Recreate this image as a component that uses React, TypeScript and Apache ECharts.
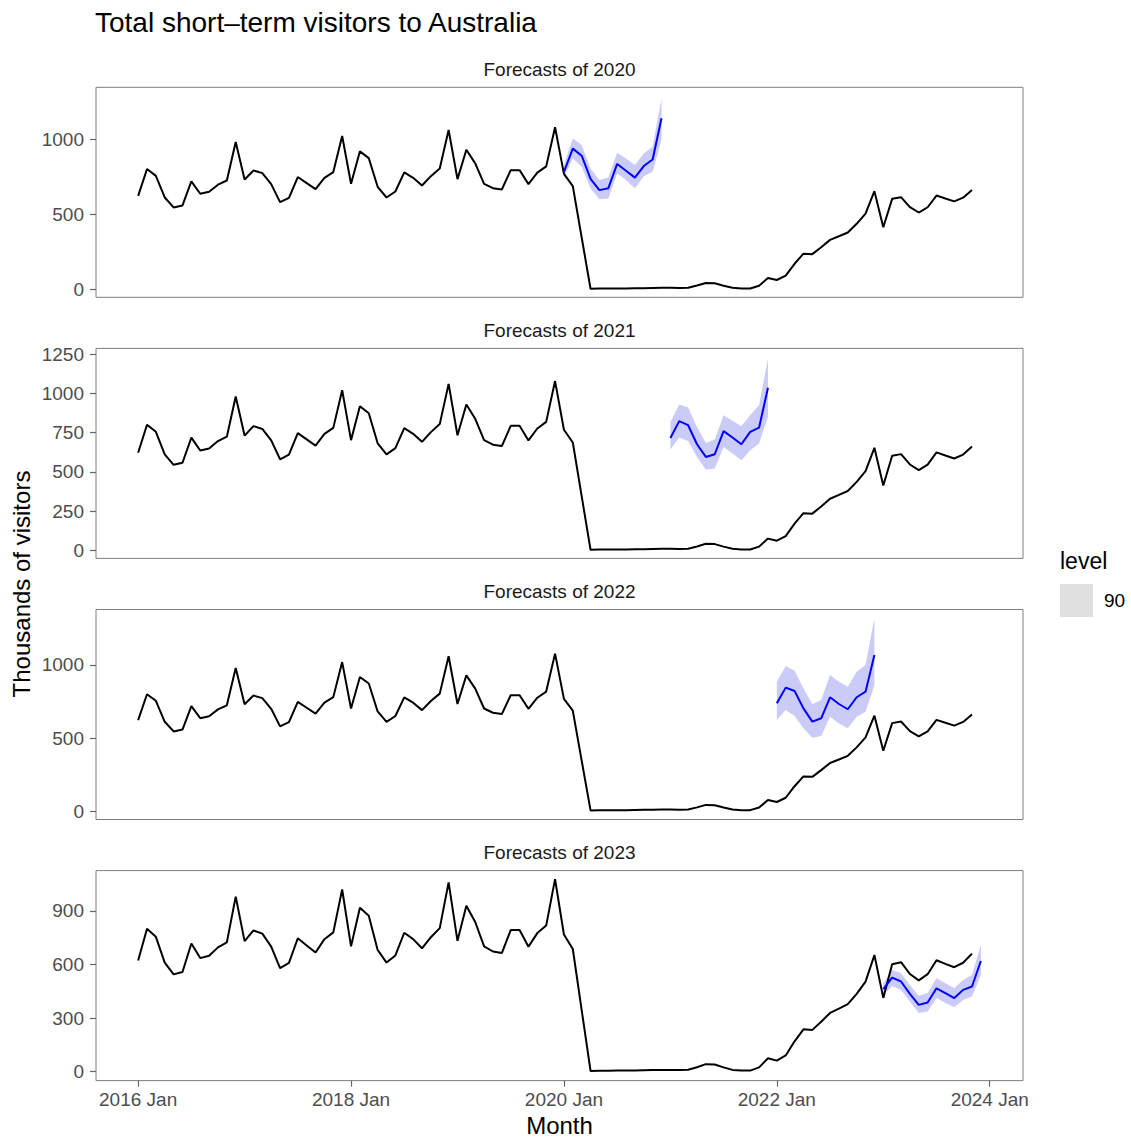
import React, { useEffect, useRef } from "react";
import * as echarts from "echarts";

// ---------- DATA ----------
// Monthly short-term visitors (thousands), index 0 = 2016 Jan
const visitors2016 = [622, 800, 755, 611, 545, 558, 718, 636, 649, 696, 724, 980];
const visitors2017 = [731, 791, 773, 700, 580, 609, 747, 707, 667, 742, 780, 1020];
const visitors2018 = [702, 918, 873, 682, 611, 651, 778, 742, 691, 753, 804, 1060];
const visitors2019 = [733, 929, 838, 702, 673, 664, 793, 793, 700, 776, 818, 1078];
const visitors2020 = [768, 687, 345, 4, 5, 5, 6, 6, 7, 8, 9, 10];
const visitors2021 = [10, 9, 11, 25, 42, 40, 24, 10, 6, 6, 24, 75];
const visitors2022 = [62, 91, 170, 237, 234, 280, 329, 353, 378, 436, 504, 653];
const visitors2023 = [413, 602, 613, 547, 511, 546, 624, 604, 585, 610, 661];
const visitors = [
  ...visitors2016, ...visitors2017, ...visitors2018, ...visitors2019,
  ...visitors2020, ...visitors2021, ...visitors2022, ...visitors2023,
];

const firstYear = 2016;
const forecastYears = [2020, 2021, 2022, 2023];

const fcMean2020 = [782, 936, 889, 735, 660, 672, 834, 789, 743, 820, 864, 1138];
const fcLo2020 = [745, 871, 816, 671, 600, 604, 771, 727, 671, 753, 782, 995];
const fcHi2020 = [827, 1004, 960, 804, 727, 744, 909, 871, 827, 904, 949, 1271];

const fcMean2021 = [716, 823, 797, 676, 595, 612, 759, 719, 676, 755, 782, 1035];
const fcLo2021 = [642, 719, 697, 595, 515, 521, 659, 617, 574, 638, 680, 850];
const fcHi2021 = [818, 929, 910, 786, 684, 706, 861, 825, 791, 861, 925, 1222];

const fcMean2022 = [738, 845, 822, 703, 612, 635, 779, 733, 697, 779, 817, 1068];
const fcLo2022 = [623, 692, 651, 566, 502, 514, 646, 600, 566, 646, 680, 863];
const fcHi2022 = [886, 993, 961, 840, 731, 760, 932, 886, 851, 954, 1000, 1320];

const fcMean2023 = [462, 527, 505, 436, 374, 387, 467, 440, 412, 458, 477, 620];
const fcLo2023 = [430, 480, 458, 393, 328, 337, 412, 384, 361, 402, 421, 542];
const fcHi2023 = [495, 570, 551, 486, 425, 440, 523, 495, 467, 514, 542, 709];

const fcMeans = [fcMean2020, fcMean2021, fcMean2022, fcMean2023];
const fcLos = [fcLo2020, fcLo2021, fcLo2022, fcLo2023];
const fcHis = [fcHi2020, fcHi2021, fcHi2022, fcHi2023];

const xTickMonths = [0, 24, 48, 72, 96];
const xTickLabels = ["2016 Jan", "2018 Jan", "2020 Jan", "2022 Jan", "2024 Jan"];
const yTicksPanel1 = [0, 500, 1000];
const yTicksPanel2 = [0, 250, 500, 750, 1000, 1250];
const yTicksPanel3 = [0, 500, 1000];
const yTicksPanel4 = [0, 300, 600, 900];
const yTicks = [yTicksPanel1, yTicksPanel2, yTicksPanel3, yTicksPanel4];

const levelLabel = "90";

// ---------- LAYOUT / STYLE ----------
const FONT = "'Liberation Sans', Arial, Helvetica, sans-serif";
const W = 1131;
const H = 1137;
const PANEL_LEFT = 96;
const PANEL_WIDTH = 927;
const PANEL_TOP0 = 87.3;
const PANEL_STEP = 261.1;
const PANEL_HEIGHT = 210;
const X_MIN = -4.75;
const X_MAX = 99.75;
const yExtents = [
  [-53, 1344],
  [-51, 1286],
  [-58, 1380],
  [-50, 1126],
];
const BAND_COLOR = "#cbcbf8";
const BORDER = "#7f7f7f";
const TICK_COLOR = "#666666";
const LABEL_COLOR = "#4d4d4d";

function buildOption() {
  const grids: any[] = [];
  const xAxes: any[] = [];
  const yAxes: any[] = [];
  const series: any[] = [];
  const graphics: any[] = [];

  forecastYears.forEach((year, k) => {
    const top = PANEL_TOP0 + k * PANEL_STEP;
    const isBottom = k === forecastYears.length - 1;
    grids.push({
      left: PANEL_LEFT,
      top,
      width: PANEL_WIDTH,
      height: PANEL_HEIGHT,
      show: true,
      borderColor: BORDER,
      borderWidth: 1,
      backgroundColor: "transparent",
      containLabel: false,
    });
    xAxes.push({
      type: "value",
      gridIndex: k,
      position: "bottom",
      min: X_MIN,
      max: X_MAX,
      axisLine: { show: false, onZero: false },
      splitLine: { show: false },
      axisTick: {
        show: isBottom,
        length: 6,
        lineStyle: { color: TICK_COLOR, width: 1.2 },
        customValues: xTickMonths,
      },
      axisLabel: {
        show: isBottom,
        customValues: xTickMonths,
        margin: 9,
        fontSize: 19,
        color: LABEL_COLOR,
        fontFamily: FONT,
        formatter: (v: number) => {
          const i = xTickMonths.indexOf(Math.round(v));
          return i >= 0 ? xTickLabels[i] : "";
        },
      },
    });
    yAxes.push({
      type: "value",
      gridIndex: k,
      position: "left",
      min: yExtents[k][0],
      max: yExtents[k][1],
      axisLine: { show: false, onZero: false },
      splitLine: { show: false },
      axisTick: {
        show: true,
        length: 6,
        lineStyle: { color: TICK_COLOR, width: 1.2 },
        customValues: yTicks[k],
      },
      axisLabel: {
        show: true,
        customValues: yTicks[k],
        margin: 12,
        fontSize: 19,
        color: LABEL_COLOR,
        fontFamily: FONT,
        formatter: (v: number) => String(v),
      },
    });

    const x0 = (year - firstYear) * 12;
    const lo = fcLos[k];
    const hi = fcHis[k];
    const mean = fcMeans[k];

    series.push({
      type: "custom",
      name: levelLabel,
      xAxisIndex: k,
      yAxisIndex: k,
      silent: true,
      z: 1,
      data: lo.map((l, j) => [x0 + j, l, hi[j]]),
      encode: { x: 0, y: [1, 2] },
      renderItem: (params: any, api: any) => {
        if (params.dataIndex !== 0) return { type: "group", children: [] };
        const pts: number[][] = [];
        for (let j = 0; j < hi.length; j++) pts.push(api.coord([x0 + j, hi[j]]));
        for (let j = lo.length - 1; j >= 0; j--) pts.push(api.coord([x0 + j, lo[j]]));
        return {
          type: "polygon",
          shape: { points: pts },
          style: { fill: BAND_COLOR, stroke: "none" },
        };
      },
    });

    series.push({
      type: "line",
      name: "data" + k,
      xAxisIndex: k,
      yAxisIndex: k,
      z: 2,
      silent: true,
      showSymbol: false,
      symbol: "none",
      data: visitors.map((v, i) => [i, v]),
      lineStyle: { color: "#000000", width: 2 },
      itemStyle: { color: "#000000" },
    });

    series.push({
      type: "line",
      name: "mean" + k,
      xAxisIndex: k,
      yAxisIndex: k,
      z: 3,
      silent: true,
      showSymbol: false,
      symbol: "none",
      data: mean.map((v, j) => [x0 + j, v]),
      lineStyle: { color: "#0000ff", width: 2 },
      itemStyle: { color: "#0000ff" },
    });

    graphics.push({
      type: "text",
      x: PANEL_LEFT + PANEL_WIDTH / 2,
      y: top - 17.8,
      style: {
        text: "Forecasts of " + year,
        fontSize: 19,
        fontFamily: FONT,
        fill: "#1a1a1a",
        align: "center",
        verticalAlign: "middle",
        textAlign: "center",
        textVerticalAlign: "middle",
      },
    });
  });

  graphics.push(
    {
      type: "text",
      x: 95,
      y: 22,
      style: {
        text: "Total short\u2013term visitors to Australia",
        fontSize: 28,
        fontFamily: FONT,
        fill: "#000000",
        align: "left",
        verticalAlign: "middle",
        textAlign: "left",
        textVerticalAlign: "middle",
      },
    },
    {
      type: "text",
      x: 21,
      y: 584,
      rotation: Math.PI / 2,
      style: {
        text: "Thousands of visitors",
        fontSize: 24,
        fontFamily: FONT,
        fill: "#000000",
        align: "center",
        verticalAlign: "middle",
        textAlign: "center",
        textVerticalAlign: "middle",
      },
    },
    {
      type: "text",
      x: PANEL_LEFT + PANEL_WIDTH / 2,
      y: 1125,
      style: {
        text: "Month",
        fontSize: 24,
        fontFamily: FONT,
        fill: "#000000",
        align: "center",
        verticalAlign: "middle",
        textAlign: "center",
        textVerticalAlign: "middle",
      },
    },
    {
      type: "text",
      x: 1060,
      y: 561,
      style: {
        text: "level",
        fontSize: 23,
        fontFamily: FONT,
        fill: "#000000",
        align: "left",
        verticalAlign: "middle",
        textAlign: "left",
        textVerticalAlign: "middle",
      },
    }
  );

  return {
    animation: false,
    backgroundColor: "#ffffff",
    textStyle: { fontFamily: FONT },
    grid: grids,
    xAxis: xAxes,
    yAxis: yAxes,
    series,
    legend: {
      show: true,
      left: 1060,
      top: 584,
      padding: 0,
      itemWidth: 33,
      itemHeight: 33,
      selectedMode: false,
      data: [
        {
          name: levelLabel,
          icon: "rect",
          itemStyle: { color: "#e0e0e0", borderWidth: 0, opacity: 1 },
        },
      ],
      textStyle: {
        fontSize: 19,
        color: "#000000",
        fontFamily: FONT,
        padding: [0, 0, 0, 6],
      },
    },
    graphic: graphics,
  };
}

export default function App() {
  const ref = useRef<HTMLDivElement>(null);
  useEffect(() => {
    if (!ref.current) return;
    const chart = echarts.init(ref.current, null, { renderer: "svg" });
    chart.setOption(buildOption() as any);
    return () => {
      chart.dispose();
    };
  }, []);
  return (
    <div
      ref={ref}
      style={{
        position: "fixed",
        left: 0,
        top: 0,
        width: W,
        height: H,
        background: "#ffffff",
      }}
    />
  );
}
